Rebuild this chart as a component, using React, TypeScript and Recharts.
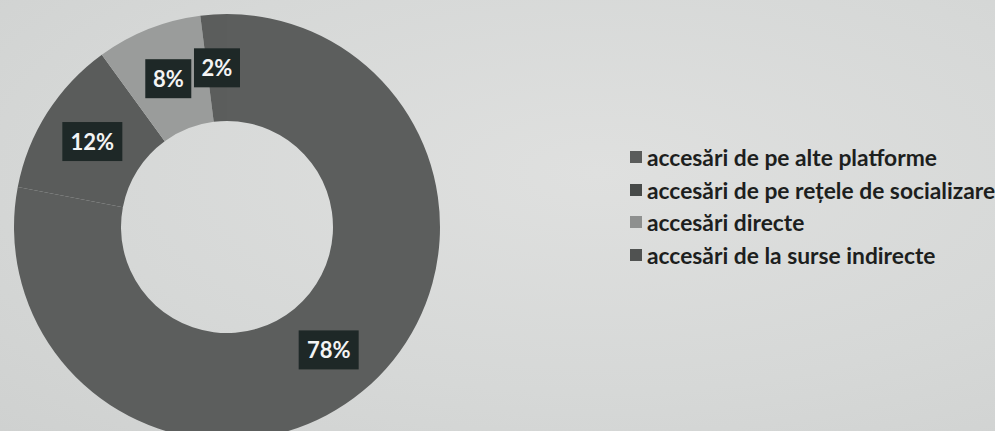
import { PieChart, Pie, Cell, Legend } from 'recharts'

const categories = [
  'accesări de pe alte platforme',
  'accesări de pe rețele de socializare',
  'accesări directe',
  'accesări de la surse indirecte',
]
const shares = [78, 12, 8, 2]
const colors = ['#5c5e5d', '#5a5c5b', '#9a9c9b', '#5b5d5c']
const legendColors = ['#5a5c5b', '#474a49', '#8e908f', '#505251']

const data = categories.map((name, i) => ({ name, value: shares[i] }))

const RAD = Math.PI / 180

const renderLabel = (props: any) => {
  const { cx, cy, midAngle, innerRadius, outerRadius, value } = props
  const r = (innerRadius + outerRadius) / 2
  const x = cx + r * Math.cos(-midAngle * RAD)
  const y = cy + r * Math.sin(-midAngle * RAD)
  const text = `${value}%`
  const w = text.length * 14 + 18
  const h = 39
  return (
    <g>
      <rect x={x - w / 2} y={y - h / 2} width={w} height={h} fill="#1e2827" />
      <text
        x={x}
        y={y}
        fill="#f4f4f4"
        textAnchor="middle"
        dominantBaseline="central"
        fontFamily="Lato"
        fontWeight={700}
        fontSize={22}
      >
        {text}
      </text>
    </g>
  )
}

const renderLegend = () => (
  <div
    style={{
      fontFamily: 'Lato',
      fontWeight: 700,
      fontSize: 22.8,
      color: '#1d1f1e',
      whiteSpace: 'nowrap',
    }}
  >
    {categories.map((name, i) => (
      <div key={name} style={{ display: 'flex', alignItems: 'center', height: 32.5 }}>
        <span
          style={{
            display: 'inline-block',
            width: 12,
            height: 12,
            background: legendColors[i],
            marginRight: 5,
            flexShrink: 0,
          }}
        />
        <span>{name}</span>
      </div>
    ))}
  </div>
)

export default function App() {
  return (
    <div
      style={{
        position: 'absolute',
        left: 0,
        top: 0,
        width: 995,
        height: 431,
        background: 'radial-gradient(ellipse at 60% 40%, #dfe0df 0%, #d6d8d7 60%, #cfd1d0 100%)',
        overflow: 'hidden',
      }}
    >
      <PieChart width={995} height={431}>
        <Pie
          data={data}
          dataKey="value"
          nameKey="name"
          cx={222}
          cy={222}
          innerRadius={106}
          outerRadius={213}
          startAngle={90}
          endAngle={-270}
          stroke="none"
          label={renderLabel}
          labelLine={false}
          isAnimationActive={false}
        >
          {data.map((d, i) => (
            <Cell key={d.name} fill={colors[i]} />
          ))}
        </Pie>
        <Legend
          layout="vertical"
          content={renderLegend}
          wrapperStyle={{ left: 630, top: 141, width: 362 }}
        />
      </PieChart>
    </div>
  )
}
